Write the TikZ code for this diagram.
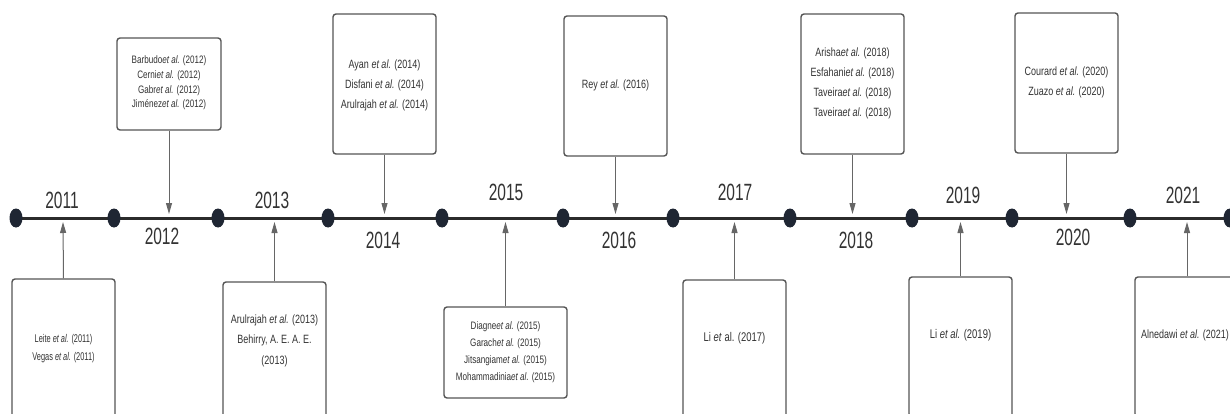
\documentclass[tikz,border=0pt]{standalone}
\usepackage{fontspec}
\setmainfont{Liberation Sans}
\newfontfamily\nfont[FakeStretch=0.66]{Liberation Sans}
\newfontfamily\bfont[FakeStretch=0.75]{Liberation Sans}
\usetikzlibrary{arrows.meta,shapes.geometric}
\definecolor{linec}{HTML}{2B2B2B}
\definecolor{dotc}{HTML}{1F2633}
\definecolor{boxc}{HTML}{555555}
\definecolor{arrc}{HTML}{666666}
\definecolor{txtc}{HTML}{333333}
\tikzset{
  yearlbl/.style={text=txtc, inner sep=0pt, font=\nfont\fontsize{23.5}{26}\selectfont},
  tdot/.style={ellipse, fill=dotc, draw=none, minimum width=13pt, minimum height=19pt, inner sep=0pt},
  refbox/.style={draw=boxc, line width=1.4pt, rounded corners=3pt, fill=white, inner sep=0pt},
  reftxt/.style={text=txtc, align=center, inner sep=0pt},
  arr/.style={draw=arrc, line width=1pt, -{Triangle[width=6pt,length=11pt]}},
  tline/.style={draw=linec, line width=3pt}
}
\newcommand{\ea}{\textit{et al.}}
\begin{document}
\begin{tikzpicture}[x=1pt,y=-1pt]
\useasboundingbox (0,0) rectangle (1230,414);
\clip (0,0) rectangle (1230,414);
\fill[white] (0,0) rectangle (1230,414);

% timeline dots
\foreach \n/\x in {1/16,2/114,3/218,4/328,5/442,6/563,7/673,8/790,9/912,10/1012,11/1130,12/1230}
  \coordinate (p\n) at (\x,218);
\draw[tline] (p1) -- (p12);
\foreach \n in {1,...,12}
  \node[tdot] (d\n) at (p\n) {};

% year labels
\node[yearlbl] (y2011) at (62,200) {2011};
\node[yearlbl] (y2012) at (162,236) {2012};
\node[yearlbl] (y2013) at (272,200) {2013};
\node[yearlbl] (y2014) at (383,240) {2014};
\node[yearlbl] (y2015) at (506,192) {2015};
\node[yearlbl] (y2016) at (619,240) {2016};
\node[yearlbl] (y2017) at (735,192) {2017};
\node[yearlbl] (y2018) at (856,240) {2018};
\node[yearlbl] (y2019) at (963,195) {2019};
\node[yearlbl] (y2020) at (1073,237) {2020};
\node[yearlbl] (y2021) at (1183,195) {2021};

% arrow targets on the timeline
\coordinate (a2011) at (63,222);
\coordinate (a2012) at (169,214);
\coordinate (a2013) at (274.5,222);
\coordinate (a2014) at (384.5,214);
\coordinate (a2015) at (505.5,222);
\coordinate (a2016) at (615.5,214);
\coordinate (a2017) at (734.5,222);
\coordinate (a2018) at (852.5,214);
\coordinate (a2019) at (960.5,222);
\coordinate (a2020) at (1066.5,214);
\coordinate (a2021) at (1187,222);

% top boxes
\node[refbox, minimum width=104pt, minimum height=92pt] (b2012) at (169,84) {};
\node[refbox, minimum width=103pt, minimum height=140pt] (b2014) at (384.5,84) {};
\node[refbox, minimum width=103pt, minimum height=140pt] (b2016) at (615.5,86) {};
\node[refbox, minimum width=103pt, minimum height=140pt] (b2018) at (852.5,84) {};
\node[refbox, minimum width=103pt, minimum height=140pt] (b2020) at (1066.5,83) {};

% bottom boxes
\node[refbox, minimum width=103pt, minimum height=140pt] (b2011) at (63.5,349) {};
\node[refbox, minimum width=103pt, minimum height=140pt] (b2013) at (274.5,352) {};
\node[refbox, minimum width=123pt, minimum height=91pt] (b2015) at (505.5,352.5) {};
\node[refbox, minimum width=103pt, minimum height=140pt] (b2017) at (734.5,350) {};
\node[refbox, minimum width=103pt, minimum height=140pt] (b2019) at (960.5,347) {};
\node[refbox, minimum width=103pt, minimum height=140pt] (b2021) at (1186.5,347) {};

% texts
\node[reftxt, font=\bfont\fontsize{10.8}{14.7}\selectfont] (t2012) at (169,83)
  {Barbudo\ea{} (2012)\\Cerni\ea{} (2012)\\Gabr\ea{} (2012)\\Jiménez\ea{} (2012)};
\node[reftxt, font=\bfont\fontsize{12}{20}\selectfont] (t2014) at (384.5,85)
  {Ayan \ea{} (2014)\\Disfani \ea{} (2014)\\Arulrajah \ea{} (2014)};
\node[reftxt, font=\bfont\fontsize{12}{20}\selectfont] (t2016) at (615.5,85)
  {Rey \ea{} (2016)};
\node[reftxt, font=\bfont\fontsize{12}{20}\selectfont] (t2018) at (852.5,83)
  {Arisha\ea{} (2018)\\Esfahani\ea{} (2018)\\Taveira\ea{} (2018)\\Taveira\ea{} (2018)};
\node[reftxt, font=\bfont\fontsize{12}{20}\selectfont] (t2020) at (1066.5,82)
  {Courard \ea{} (2020)\\Zuazo \ea{} (2020)};

\node[reftxt, font=\nfont\fontsize{11.2}{18}\selectfont] (t2011) at (63.5,349)
  {Leite \ea{} (2011)\\Vegas \ea{} (2011)};
\node[reftxt, font=\bfont\fontsize{12}{20.5}\selectfont] (t2013) at (274.5,340.5)
  {Arulrajah \ea{} (2013)\\Behirry, A. E. A. E.\\(2013)};
\node[reftxt, font=\bfont\fontsize{10.8}{17}\selectfont] (t2015) at (505.5,352.5)
  {Diagne\ea{} (2015)\\Garach\ea{} (2015)\\Jitsangiam\ea{} (2015)\\Mohammadinia\ea{} (2015)};
\node[reftxt, font=\bfont\fontsize{12.6}{20}\selectfont] (t2017) at (734.5,338)
  {Li \textit{et} al. (2017)};
\node[reftxt, font=\bfont\fontsize{12.6}{20}\selectfont] (t2019) at (960.5,335)
  {Li \ea{} (2019)};
\node[reftxt, font=\bfont\fontsize{12}{20}\selectfont] (t2021) at (1185,335)
  {Alnedawi \ea{} (2021)};

% connectors
\foreach \y in {2012,2014,2016,2018,2020}
  \draw[arr] (b\y.south) -- (a\y);
\foreach \y in {2011,2013,2015,2017,2019}
  \draw[arr] (b\y.north) -- (a\y);
\draw[arr] (b2021.north -| a2021) -- (a2021);
\end{tikzpicture}
\end{document}
